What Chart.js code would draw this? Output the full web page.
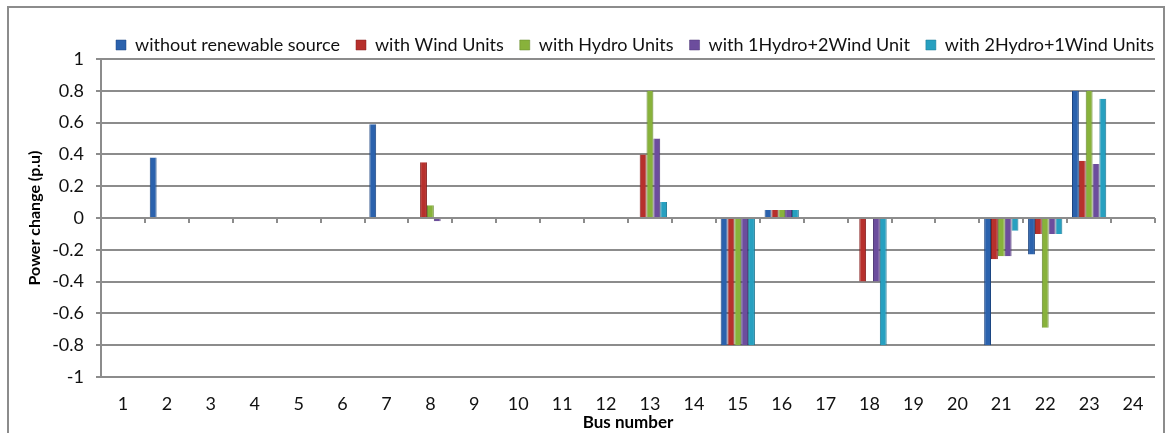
<!DOCTYPE html>
<html>
<head>
<meta charset="utf-8">
<title>Power change per bus</title>
<script src="https://cdn.jsdelivr.net/npm/chart.js@4/dist/chart.umd.min.js"></script>
<style>
  body { margin: 0; background: #fff; }
  #frame { position: absolute; left: 7px; top: 6px; width: 1154px; height: 450px; border: 2px solid #8c8c8c; }
  #chart { position: absolute; left: 0; top: 0; }
</style>
</head>
<body>
<div id="frame"></div>
<canvas id="chart" width="1169" height="433"></canvas>
<script>
// Bus numbers on the x axis
const buses = ["1", "2", "3", "4", "5", "6", "7", "8", "9", "10", "11", "12",
    "13", "14", "15", "16", "17", "18", "19", "20", "21", "22", "23", "24"];

// Power change (p.u) for each case
const withoutRenewable = [0, 0.38, 0, 0, 0, 0, 0.59, 0, 0, 0, 0, 0, 0, 0, -0.8, 0.05, 0, 0, 0, 0, -0.8, -0.23, 0.8, 0];
const withWind = [0, 0, 0, 0, 0, 0, 0, 0.35, 0, 0, 0, 0, 0.4, 0, -0.8, 0.05, 0, -0.4, 0, 0, -0.26, -0.1, 0.36, 0];
const withHydro = [0, 0, 0, 0, 0, 0, 0, 0.08, 0, 0, 0, 0, 0.8, 0, -0.8, 0.05, 0, 0, 0, 0, -0.24, -0.69, 0.8, 0];
const hydro1Wind2 = [0, 0, 0, 0, 0, 0, 0, -0.02, 0, 0, 0, 0, 0.5, 0, -0.8, 0.05, 0, -0.4, 0, 0, -0.24, -0.1, 0.34, 0];
const hydro2Wind1 = [0, 0, 0, 0, 0, 0, 0, 0, 0, 0, 0, 0, 0.1, 0, -0.8, 0.05, 0, -0.8, 0, 0, -0.08, -0.1, 0.75, 0];

const seriesNames = ["without renewable source", "with Wind Units", "with Hydro Units",
    "with 1Hydro+2Wind Unit", "with 2Hydro+1Wind Units"];
const seriesColors = ["#2b62ad", "#b7302c", "#88b23b", "#6c4d9d", "#27a0c0"];
const seriesEdges = ["#1d4682", "#862020", "#62852a", "#4d3674", "#1b7590"];

const gridColor = "#8c8c8c";
const font = "Lato, 'Open Sans', sans-serif";

// small tick marks on the zero line, between categories
const zeroTicks = {
    id: "zeroTicks",
    beforeDatasetsDraw(chart) {
        const x = chart.scales.x, y = chart.scales.y;
        const y0 = y.getPixelForValue(0);
        const step = (x.right - x.left) / buses.length;
        const ctx = chart.ctx;
        ctx.save();
        ctx.strokeStyle = gridColor;
        ctx.lineWidth = 2;
        for (let i = 1; i <= buses.length; i++) {
            const px = Math.round(x.left + i * step);
            ctx.beginPath();
            ctx.moveTo(px, y0);
            ctx.lineTo(px, y0 + 5);
            ctx.stroke();
        }
        ctx.restore();
    }
};

// trim the legend box so the plot starts right under it, and push it right a bit
const legendFit = {
    id: "legendFit",
    beforeInit(chart) {
        const fit = chart.legend.fit;
        chart.legend.fit = function () {
            fit.bind(chart.legend)();
            this.height -= 5;
        };
    },
    afterLayout(chart) {
        chart.legend.left += 15;
        chart.legend.right += 15;
    }
};

const datasets = [withoutRenewable, withWind, withHydro, hydro1Wind2, hydro2Wind1].map((values, i) => ({
    label: seriesNames[i],
    data: values,
    backgroundColor: seriesColors[i],
    borderColor: seriesEdges[i],
    borderWidth: { left: 1, right: 1, top: 0, bottom: 0 },
    borderSkipped: false,
    categoryPercentage: 0.78,
    barPercentage: 1.0
}));

new Chart(document.getElementById("chart"), {
    type: "bar",
    data: { labels: buses, datasets: datasets },
    plugins: [zeroTicks, legendFit],
    options: {
        responsive: false,
        devicePixelRatio: 1,
        animation: false,
        layout: { padding: { left: 18, right: 14, top: 20, bottom: 0 } },
        plugins: {
            tooltip: { enabled: false },
            legend: {
                position: "top",
                align: "end",
                labels: {
                    color: "#111",
                    font: { family: font, size: 18 },
                    boxWidth: 10,
                    boxHeight: 10,
                    padding: 16
                }
            }
        },
        scales: {
            x: {
                grid: { display: false },
                border: { display: false },
                ticks: { color: "#111", font: { family: font, size: 18 }, padding: 8, maxRotation: 0, autoSkip: false },
                title: { display: true, text: "Bus number", color: "#000", font: { family: font, size: 17, weight: "bold" }, padding: 0 },
                afterFit(scale) { scale.height = 56; }
            },
            y: {
                min: -1,
                max: 1,
                ticks: {
                    stepSize: 0.2,
                    color: "#111",
                    font: { family: font, size: 18 },
                    padding: 12,
                    callback: (v) => Math.round(v * 10) / 10
                },
                grid: { color: gridColor, lineWidth: 2, tickLength: 5 },
                border: { color: gridColor, width: 2 },
                title: { display: true, text: "Power change (p.u)", color: "#000", font: { family: font, size: 16, weight: "bold" }, padding: { top: 7, bottom: 4 } },
                afterFit(scale) { scale.width = 83; }
            }
        }
    }
});
</script>
</body>
</html>
